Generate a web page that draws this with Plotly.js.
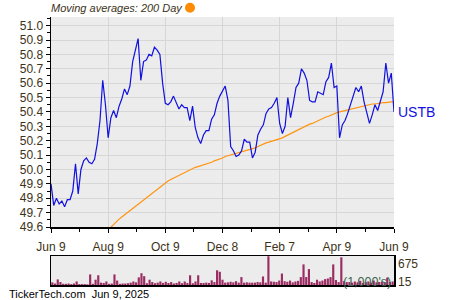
<!DOCTYPE html>
<html>
<head>
<meta charset="utf-8">
<script src="https://cdn.plot.ly/plotly-3.0.1.min.js"></script>
<style>html,body{margin:0;padding:0;background:#fff}#chart{width:450px;height:300px}</style>
</head>
<body>
<div id="chart"></div>
<script>
const tickLabels = ['Jun 9','Aug 9','Oct 9','Dec 8','Feb 7','Apr 9','Jun 9'];
const ticker = 'USTB';
const prices = [49.90,49.75,49.80,49.76,49.78,49.74,49.79,49.79,49.85,50.04,
49.83,50.00,50.06,50.08,50.05,50.04,50.07,50.18,50.34,50.62,
50.45,50.22,50.36,50.41,50.36,50.44,50.49,50.56,50.52,50.58,
50.75,50.82,50.91,50.62,50.75,50.76,50.80,50.79,50.85,50.83,
50.80,50.60,50.46,50.45,50.47,50.51,50.47,50.42,50.45,50.43,
50.43,50.34,50.44,50.29,50.22,50.18,50.24,50.27,50.27,50.35,
50.38,50.46,50.51,50.55,50.58,50.48,50.16,50.13,50.09,50.10,
50.13,50.21,50.19,50.19,50.08,50.12,50.24,50.28,50.31,50.39,
50.42,50.43,50.46,50.50,50.32,50.25,50.30,50.50,50.36,50.46,
50.57,50.60,50.70,50.67,50.62,50.48,50.47,50.47,50.54,50.53,
50.52,50.61,50.64,50.74,50.57,50.58,50.22,50.31,50.34,50.39,
50.45,50.50,50.57,50.54,50.58,50.47,50.39,50.32,50.38,50.45,
50.41,50.48,50.54,50.74,50.60,50.67,50.40];
const ma200 = [null,null,null,null,null,null,null,null,null,null,
null,null,null,null,null,null,null,null,null,null,
null,49.58,49.60,49.62,49.64,49.655,49.67,49.685,49.70,49.715,
49.73,49.745,49.76,49.775,49.79,49.805,49.82,49.835,49.85,49.865,
49.88,49.895,49.91,49.92,49.93,49.94,49.95,49.96,49.97,49.98,
49.99,50.00,50.01,50.015,50.02,50.025,50.03,50.035,50.04,50.05,
50.06,50.065,50.07,50.08,50.09,50.095,50.10,50.105,50.11,50.115,
50.12,50.125,50.13,50.135,50.14,50.15,50.16,50.17,50.18,50.185,
50.19,50.195,50.20,50.205,50.21,50.22,50.23,50.24,50.25,50.26,
50.27,50.28,50.29,50.30,50.31,50.315,50.32,50.33,50.34,50.35,
50.36,50.365,50.37,50.38,50.39,50.395,50.40,50.405,50.41,50.415,
50.42,50.425,50.43,50.435,50.44,50.445,50.45,50.45,50.455,50.455,
50.46,50.46,50.465,50.465,50.47,50.47,50.47];
const volume = [62,35,131,69,28,28,35,21,35,83,
21,21,21,15,248,28,124,228,55,48,
83,28,35,248,104,28,35,35,41,55,
83,62,179,276,207,41,124,69,41,55,
83,48,76,48,69,35,48,83,41,83,
48,228,41,83,228,48,48,55,48,110,
69,345,310,124,55,62,76,62,90,55,
186,55,62,55,55,55,69,62,200,55,
675,83,76,69,104,269,90,76,104,62,
83,97,186,483,186,373,69,48,124,83,
104,138,152,186,483,117,69,649,90,69,
69,55,83,62,97,48,69,83,55,104,
62,69,76,55,172,69,83];
const volTickLabels = ['675','15'];

const idx = prices.map((_, i) => i);
const n = prices.length - 1;
const tickVals = tickLabels.map((_, k) => k * n / (tickLabels.length - 1));

const txtColor = '#3c3218';
const font = {family: 'Liberation Sans, Arial, sans-serif', size: 12, color: txtColor};

const traces = [
  {x: idx, y: ma200, type: 'scatter', mode: 'lines', line: {color: '#ff9410', width: 1.2}, connectgaps: false, hoverinfo: 'skip'},
  {x: idx, y: prices, type: 'scatter', mode: 'lines', line: {color: '#1010e0', width: 1.2}, hoverinfo: 'skip'},
  {x: idx, y: volume, type: 'bar', xaxis: 'x2', yaxis: 'y2', marker: {color: '#9b2d63', line: {width: 0}}, hoverinfo: 'skip'}
];

const layout = {
  width: 450, height: 300,
  margin: {l: 51, r: 56, t: 17, b: 15},
  paper_bgcolor: '#ffffff',
  plot_bgcolor: '#ececec',
  showlegend: false,
  font: font,
  bargap: 0.2,
  title: {text: 'Moving averages: 200 Day', x: 51/450, xanchor: 'left', xref: 'container', y: 1 - 8.5/300, yanchor: 'middle',
          font: {family: 'Liberation Sans, Arial, sans-serif', size: 11, style: 'italic', color: txtColor}},
  xaxis: {
    domain: [0, 1], range: [0, n], anchor: 'y',
    tickmode: 'array', tickvals: tickVals, ticktext: tickLabels,
    ticks: 'outside', ticklen: 4, tickcolor: '#000', tickwidth: 1,
    ticklabelstandoff: 4,
    minor: {tickmode: 'array', tickvals: tickVals.slice(0, -1).map(v => v + n / 12), ticks: 'outside', ticklen: 3, tickcolor: '#000', showgrid: false},
    showgrid: true, gridcolor: '#d6d6d6', gridwidth: 1,
    showline: true, linecolor: '#000', linewidth: 1.5,
    zeroline: false, tickfont: font, fixedrange: true
  },
  yaxis: {
    domain: [(285 - 227) / 268, 1], range: [49.6, 51.06], anchor: 'x',
    dtick: 0.1, tick0: 49.6, tickformat: '.1f',
    ticks: 'outside', ticklen: 4, tickcolor: '#000', tickwidth: 1,
    minor: {dtick: 0.05, tick0: 49.6, ticks: 'outside', ticklen: 3, tickcolor: '#000', showgrid: false},
    showgrid: true, gridcolor: '#d6d6d6', gridwidth: 1,
    showline: true, linecolor: '#000', linewidth: 1.5,
    zeroline: false, tickfont: font, fixedrange: true
  },
  xaxis2: {
    domain: [0, 1], range: [-0.5, n + 0.5], anchor: 'y2',
    showticklabels: false, ticks: '', showgrid: false, zeroline: false,
    showline: true, mirror: true, linecolor: '#000', linewidth: 1.5, fixedrange: true
  },
  yaxis2: {
    domain: [0, (285 - 256) / 268], range: [0, 680], anchor: 'x2',
    showticklabels: false, ticks: '', showgrid: false, zeroline: false,
    showline: true, mirror: true, linecolor: '#000', linewidth: 1.5, fixedrange: true
  },
  shapes: [
    {type: 'circle', xref: 'paper', yref: 'paper', xsizemode: 'pixel', ysizemode: 'pixel',
     xanchor: (190 - 51) / 343, yanchor: 1 + (17 - 7.7) / 268, x0: -5, x1: 5, y0: -5, y1: 5,
     fillcolor: '#ff8c00', line: {width: 0}}
  ],
  annotations: [
    {text: ticker, xref: 'paper', yref: 'y', x: 1, y: prices[n], xanchor: 'left', yanchor: 'middle', xshift: 2, showarrow: false,
     font: {family: 'Liberation Sans Narrow, Liberation Sans, Arial, sans-serif', size: 14, color: '#1010e0'}},
    {text: volTickLabels[0], xref: 'paper', yref: 'paper', x: 1, y: (285 - 264) / 268, xanchor: 'left', yanchor: 'middle', xshift: 2, showarrow: false, font: font},
    {text: volTickLabels[1], xref: 'paper', yref: 'paper', x: 1, y: (285 - 282) / 268, xanchor: 'left', yanchor: 'middle', xshift: 2, showarrow: false, font: font},
    {text: "(1,000's)", xref: 'paper', yref: 'paper', x: 1, y: (285 - 282) / 268, xanchor: 'right', yanchor: 'middle', xshift: -1, showarrow: false,
     font: {family: 'Liberation Sans, Arial, sans-serif', size: 12.5, color: '#3a6550'}},
    {text: 'TickerTech.com&nbsp;&nbsp;Jun 9, 2025', xref: 'paper', yref: 'paper', x: (7 - 51) / 343, y: (285 - 294) / 268, xanchor: 'left', yanchor: 'middle', showarrow: false,
     font: {family: 'Liberation Sans, Arial, sans-serif', size: 11, color: '#000'}}
  ]
};

Plotly.newPlot('chart', traces, layout, {staticPlot: true, displayModeBar: false});
</script>
</body>
</html>
